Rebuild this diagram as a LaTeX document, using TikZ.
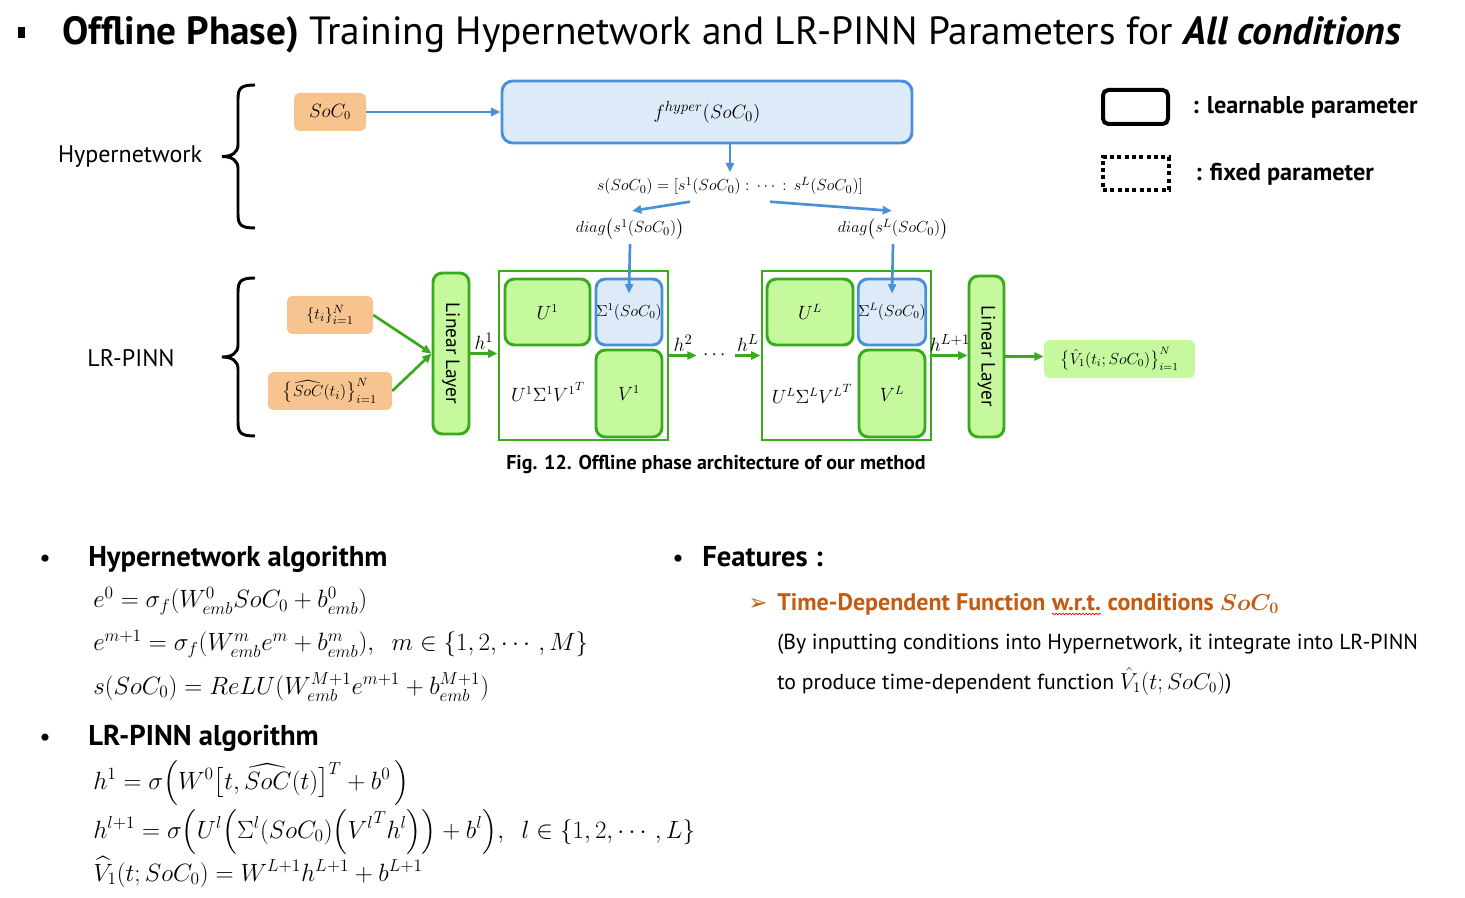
\documentclass[tikz,border=0pt]{standalone}
\usepackage{amsmath}
\usepackage{amssymb}
\usepackage{fontspec}
\setmainfont{PT Sans}
\newfontfamily\symfont{DejaVu Sans}
\usepackage{tikz}
\usetikzlibrary{arrows.meta, calc, positioning}
\usetikzlibrary{decorations.pathmorphing}

\definecolor{orangefill}{HTML}{F7C48F}
\definecolor{greenfill}{HTML}{C6F89E}
\definecolor{greenline}{HTML}{38AA1C}
\definecolor{bluefill}{HTML}{DDEAF7}
\definecolor{blueline}{HTML}{4A90D9}
\definecolor{featorange}{HTML}{C55A11}

\def\unitpx{0.75pt}

\tikzset{
  inbox/.style={fill=orangefill, rounded corners=4pt, inner sep=0pt},
  lrbox/.style={draw=greenline, fill=greenfill, line width=2.2pt, rounded corners=7pt, inner sep=0pt},
  sigbox/.style={draw=blueline, fill=bluefill, line width=2.2pt, rounded corners=7pt, inner sep=0pt},
  blockbox/.style={draw=greenline, line width=2.2pt, inner sep=0pt},
  bluearrow/.style={-{Triangle[length=7pt,width=6pt]}, blueline, line width=2pt},
  greenarrow/.style={-{Triangle[length=7pt,width=6pt]}, greenline, line width=2pt},
  diagmath/.style={font=\fontsize{13.5}{15}\selectfont},
  hlabel/.style={text=black, font=\fontsize{15.5}{17}\selectfont, inner sep=2pt},
  bracepath/.style={line width=2.2pt, black},
  eqline/.style={anchor=base west, inner sep=0pt, font=\fontsize{17.28}{21}\selectfont, scale=1.085, transform shape},
  heading/.style={anchor=base west, inner sep=0pt, font=\bfseries\fontsize{21.5}{24}\selectfont},
  bulletdot/.style={anchor=base, inner sep=0pt, font=\fontsize{19}{21}\selectfont},
}

\begin{document}
\begin{tikzpicture}[x=0.75pt, y=-0.75pt]
  \useasboundingbox (0,0) rectangle (1465,898);

  % title
  \fill (18,27) rectangle (25,38);
  \node[anchor=base west, inner sep=0pt, font=\fontsize{29.5}{34}\selectfont] (title) at (62,45)
    {\textbf{Offline Phase)} Training Hypernetwork and LR-PINN Parameters for \textbf{\textit{All conditions}}};

  % braces on the left
  \foreach \ytop/\ybot in {85/228, 278/436} {
    \pgfmathsetmacro\ymid{(\ytop+\ybot)/2}
    \draw[bracepath] (255,\ytop) .. controls (241,\ytop) and (238,\ytop+3) .. (238,\ytop+14)
      -- (238,\ymid-12) .. controls (238,\ymid-4) and (232,\ymid) .. (222,\ymid)
      .. controls (232,\ymid) and (238,\ymid+4) .. (238,\ymid+12)
      -- (238,\ybot-14) .. controls (238,\ybot-3) and (241,\ybot) .. (255,\ybot);
  }
  \node[font=\fontsize{18}{21}\selectfont] (hyplabel) at (130,157) {Hypernetwork};
  \node[font=\fontsize{18}{21}\selectfont] (lrlabel) at (131,358) {LR-PINN};

  % hypernetwork
  \node[inbox, diagmath, minimum width=72*\unitpx, minimum height=38*\unitpx] (soc) at (330,112) {$SoC_0$};
  \node[sigbox, rounded corners=8pt, minimum width=410*\unitpx, minimum height=62*\unitpx,
    font=\fontsize{15.5}{17}\selectfont] (hyper) at (707,112) {$f^{hyper}(SoC_0)$};
  \node[font=\fontsize{12.5}{14}\selectfont] (svec) at (730,186) {$s(SoC_0)=[s^1(SoC_0):\,\cdots\,:\,s^L(SoC_0)]$};
  \node[font=\fontsize{13}{15}\selectfont] (diag1) at (630,229) {$diag\big(s^1(SoC_0)\big)$};
  \node[font=\fontsize{13}{15}\selectfont] (diagL) at (893,229) {$diag\big(s^L(SoC_0)\big)$};

  \draw[bluearrow] (soc.east) -- (hyper.west);
  \draw[bluearrow] (hyper.south -| svec.north) -- (svec.north);
  \draw[bluearrow] ($(svec.south)+(-40,2)$) -- ($(diag1.north)+(2,-3)$);
  \draw[bluearrow] ($(svec.south)+(40,2)$) -- ($(diagL.north)+(-1,-3)$);

  % LR-PINN inputs
  \node[inbox, font=\fontsize{13}{15}\selectfont, minimum width=86*\unitpx, minimum height=38*\unitpx] (ti) at (330,315)
    {$\{t_i\}_{i=1}^N$};
  \node[inbox, font=\fontsize{13}{15}\selectfont, minimum width=124*\unitpx, minimum height=38*\unitpx] (sochat) at (330,391)
    {$\big\{\widehat{SoC}(t_i)\big\}_{i=1}^N$};
  \node[lrbox, minimum width=36*\unitpx, minimum height=161*\unitpx] (lin1) at (451,353.5)
    {\rotatebox{-90}{\fontsize{14.5}{16}\selectfont Linear Layer}};

  % first low-rank block
  \node[blockbox, minimum width=169*\unitpx, minimum height=169*\unitpx] (blk1) at (583.5,355.5) {};
  \node[lrbox, diagmath, minimum width=85*\unitpx, minimum height=66*\unitpx] (u1) at (547.5,312) {$U^1$};
  \node[sigbox, minimum width=66*\unitpx, minimum height=66*\unitpx, font=\fontsize{11.5}{13}\selectfont] (sig1) at (629,312) {$\Sigma^1(SoC_0)$};
  \node[lrbox, diagmath, minimum width=66*\unitpx, minimum height=87*\unitpx] (v1) at (629,393.5) {$V^1$};
  \node[diagmath] (prod1) at (548,392) {$U^1\Sigma^1{V^1}^T$};

  % last low-rank block
  \node[blockbox, minimum width=169*\unitpx, minimum height=169*\unitpx] (blkL) at (846.5,355.5) {};
  \node[lrbox, diagmath, minimum width=86*\unitpx, minimum height=66*\unitpx] (uL) at (810,312) {$U^L$};
  \node[sigbox, minimum width=66*\unitpx, minimum height=66*\unitpx, font=\fontsize{11.5}{13}\selectfont] (sigL) at (892,312) {$\Sigma^L(SoC_0)$};
  \node[lrbox, diagmath, minimum width=66*\unitpx, minimum height=87*\unitpx] (vL) at (892,393.5) {$V^L$};
  \node[diagmath] (prodL) at (812,394) {$U^L\Sigma^L{V^L}^T$};

  \node[lrbox, minimum width=35*\unitpx, minimum height=161*\unitpx] (lin2) at (986.5,356.5)
    {\rotatebox{-90}{\fontsize{14.5}{16}\selectfont Linear Layer}};
  \node[fill=greenfill, rounded corners=4pt, inner sep=0pt, font=\fontsize{12}{14}\selectfont, minimum width=151*\unitpx,
    minimum height=38*\unitpx] (out) at (1119.5,359) {$\big\{\hat{V}_1(t_i;SoC_0)\big\}_{i=1}^N$};
  \node[diagmath, inner sep=0pt, minimum width=38*\unitpx] (dots) at (716,355.5) {$\cdots$};

  % sigma inputs and forward pass
  \draw[bluearrow] (diag1.south) -- ($(sig1.north)+(0,16)$);
  \draw[bluearrow] (diagL.south) -- ($(sigL.north)+(0,16)$);
  \draw[greenarrow] (ti.east) -- (lin1.west);
  \draw[greenarrow] (sochat.east) -- (lin1.west);
  \draw[greenarrow] (lin1.east) -- node[above, hlabel] {$h^1$} (lin1.east -| blk1.west);
  \draw[greenarrow] (blk1.east) -- node[above, hlabel] {$h^2$} (dots.west);
  \draw[greenarrow] (dots.east) -- node[above, hlabel] {$h^L$} (blkL.west);
  \draw[greenarrow] (blkL.east) -- node[above, hlabel] {$h^{L+1}$} (blkL.east -| lin2.west);
  \draw[greenarrow] (lin2.east) -- (lin2.east -| out.west);

  \node[font=\bfseries\fontsize{15}{17}\selectfont] (caption) at (716,464)
    {Fig. 12. Offline phase architecture of our method};

  % legend
  \node[draw=black, line width=3pt, rounded corners=4pt, minimum width=65*\unitpx, minimum height=34*\unitpx] (leglearn) at (1135.5,107) {};
  \node[draw=black, line width=3pt, dash pattern=on 3pt off 2.5pt, minimum width=66*\unitpx, minimum height=33*\unitpx] (legfixed) at (1136,173.5) {};
  \node[anchor=base west, inner sep=0pt, font=\bfseries\fontsize{18.2}{21}\selectfont] (learntext) at (1192,114) {: learnable parameter};
  \node[anchor=base west, inner sep=0pt, font=\bfseries\fontsize{18.2}{21}\selectfont] (fixedtext) at (1195,181) {: fixed parameter};

  % hypernetwork algorithm
  \node[bulletdot] (bull1) at (45,566) {•};
  \node[heading] (hypalg) at (88,566) {Hypernetwork algorithm};
  \node[eqline] (eqa) at (93,608) {$e^0=\sigma_f(W_{emb}^0SoC_0+b_{emb}^0)$};
  \node[eqline] (eqb) at (93,651) {$e^{m+1}=\sigma_f(W_{emb}^me^m+b_{emb}^m),\ \ m\in\{1,2,\cdots,M\}$};
  \node[eqline] (eqc) at (93,694) {$s(SoC_0)=ReLU(W_{emb}^{M+1}e^{m+1}+b_{emb}^{M+1})$};

  % LR-PINN algorithm
  \node[bulletdot] (bull2) at (45,745) {•};
  \node[heading] (lralg) at (88,745) {LR-PINN algorithm};
  \node[eqline] (eqd) at (93,789) {$h^1=\sigma\Big(W^0\big[t,\widehat{SoC}(t)\big]^T+b^0\,\Big)$};
  \node[eqline] (eqe) at (93,838) {$h^{l+1}=\sigma\Big(U^l\Big(\Sigma^l(SoC_0)\Big({V^l}^Th^l\Big)\Big)+b^l\Big),\ \ l\in\{1,2,\cdots,L\}$};
  \node[eqline] (eqf) at (93,881) {$\widehat{V}_1(t;SoC_0)=W^{L+1}h^{L+1}+b^{L+1}$};

  % features
  \node[bulletdot] (bull3) at (678,566) {•};
  \node[heading] (feat) at (702,566) {Features :};
  \node[anchor=base, inner sep=0pt, text=featorange, font=\symfont\fontsize{17}{19}\selectfont] (featarrow) at (758,611) {➢};
  \begin{scope}[every node/.style={anchor=base west, inner sep=0pt, text=featorange, font=\bfseries\fontsize{18}{21}\selectfont}]
    \node (feata) at (777,610) {Time-Dependent Function\ \mbox{}};
    \node (wrt) at (feata.base east) {w.r.t.};
    \node (featb) at (wrt.base east) {\ conditions $\boldsymbol{SoC_0}$};
  \end{scope}
  \draw[red, line width=0.5pt, decorate, decoration={snake, amplitude=0.6pt, segment length=2.5pt}]
    ($(wrt.base west)+(0,4)$) -- ($(wrt.base east)+(0,4)$);
  \node[anchor=base west, inner sep=0pt, font=\fontsize{16.3}{19}\selectfont] (featc) at (777,649)
    {(By inputting conditions into Hypernetwork, it integrate into LR-PINN};
  \node[anchor=base west, inner sep=0pt, font=\fontsize{16.3}{19}\selectfont] (featd) at (777,689)
    {to produce time-dependent function $\hat{V}_1(t;SoC_0)$)};
\end{tikzpicture}
\end{document}
